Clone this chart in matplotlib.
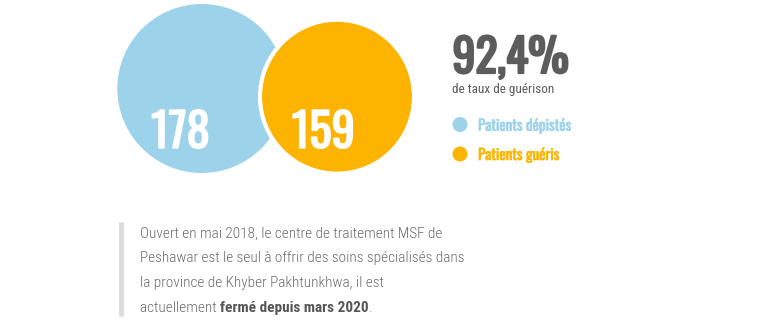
import matplotlib.pyplot as plt
from matplotlib.patches import Circle
import matplotlib.patheffects as pe

# data
counts = [178, 159]
labels = ['Patients dépistés', 'Patients guéris']
colors = ['#9dd3ea', '#fdb400']
cure_rate = '92,4%'
cure_label = 'de taux de guérison'
body_lines = [
    'Ouvert en mai 2018, le centre de traitement MSF de',
    'Peshawar est le seul à offrir des soins spécialisés dans',
    'la province de Khyber Pakhtunkhwa, il est',
]
last_plain = 'actuellement '
last_bold = 'fermé depuis mars 2020'

W, H = 765, 325
fig = plt.figure(figsize=(W / 100, H / 100), dpi=100)
ax = fig.add_axes([0, 0, 1, 1])
ax.set_xlim(0, W)
ax.set_ylim(H, 0)
ax.axis('off')


def heavier(lw, c):
    # only one Oswald weight is installed, thicken it a little with a stroke
    return [pe.withStroke(linewidth=lw, foreground=c)]


# bubbles (pixel layout)
centers = [(201.8, 88.5), (337, 96.7)]
radii = [84.5, 77]
text_x = [180.5, 323.3]
for i, n in enumerate(counts):
    ax.add_patch(Circle(centers[i], radii[i], facecolor=colors[i],
                        edgecolor='white', linewidth=3 if i else 0, zorder=2 + i))
    ax.text(text_x[i], 147.8, str(n), family='Oswald', fontsize=33.5, color='white',
            ha='center', va='baseline', zorder=5, path_effects=heavier(1.2, 'white'))

# headline figure
ax.text(452.5, 73, cure_rate, family='Oswald', fontsize=33,
        color='#5c5c5c', va='baseline', path_effects=heavier(1.6, '#5c5c5c'))
ax.text(452, 92.7, cure_label, family='Roboto Condensed', fontsize=9.5,
        color='#5c5c5c', va='baseline')

# legend
for i, lab in enumerate(labels):
    y = [124.5, 154][i]
    ax.add_patch(Circle((460, y), 7.5, facecolor=colors[i], edgecolor='none'))
    ax.text(478, [130.7, 160][i], lab, family='Oswald', fontsize=10.8,
            color=colors[i], va='baseline', path_effects=heavier(0.4, colors[i]))

# quote block
ax.plot([120.8, 120.8], [222, 316], color='#dddddd', linewidth=3.6,
        solid_capstyle='butt')
base = [237.3, 262.3, 287.3, 312.3]
body_kw = dict(family='Roboto Condensed', fontweight=300, fontsize=10.95,
               color='#6b6b6b', va='baseline')
for k, line in enumerate(body_lines):
    ax.text(140, base[k], line, **body_kw)

r = fig.canvas.get_renderer()
t1 = ax.text(140, base[3], last_plain, **body_kw)
x2 = 140 + t1.get_window_extent(r).width
t2 = ax.text(x2, base[3], last_bold, family='Roboto Condensed', fontweight='bold',
             fontsize=10.95, color='#555555', va='baseline')
x3 = x2 + t2.get_window_extent(r).width
ax.text(x3, base[3], '.', **body_kw)

fig.savefig('out.png', dpi=100, facecolor='white')
